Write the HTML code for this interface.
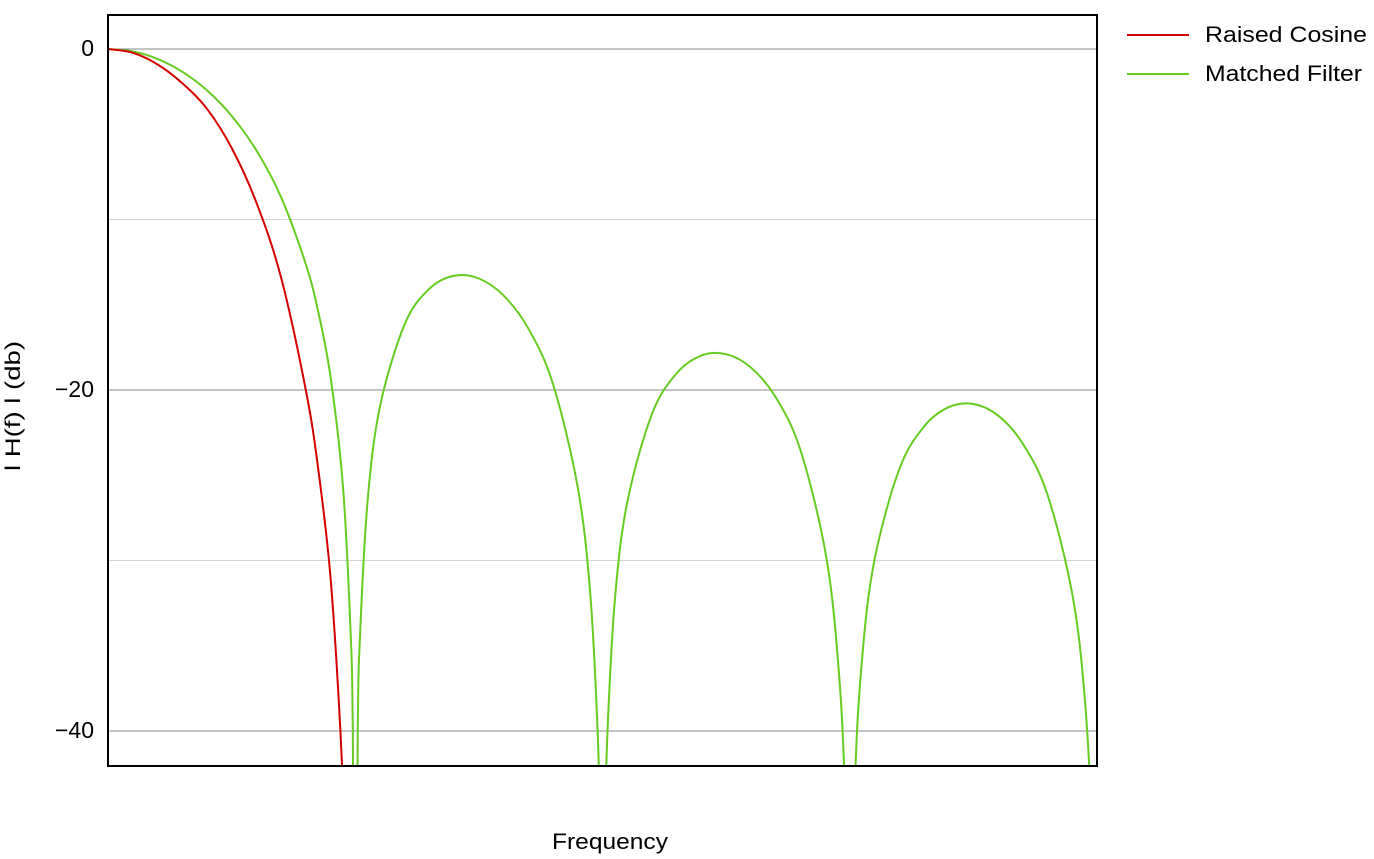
<!DOCTYPE html>
<html><head><meta charset="utf-8"><style>
html,body{margin:0;padding:0;background:#fff;width:1374px;height:859px;overflow:hidden}
svg{display:block}
text{font-family:"Liberation Sans",Arial,sans-serif}
</style></head><body>
<svg id="chart" width="1374" height="859" xmlns="http://www.w3.org/2000/svg">
<defs><clipPath id="pc"><rect x="108" y="15" width="989" height="751"/></clipPath></defs>
<g id="grid"></g>
<g id="series" clip-path="url(#pc)"></g>
<rect x="108" y="15" width="989" height="751" fill="none" stroke="#000" stroke-width="2"/>
<g id="yticks"></g>
<text x="20" y="406" font-size="21" text-anchor="middle" textLength="130" lengthAdjust="spacingAndGlyphs" transform="rotate(-90 20 406)">l H(f) l  (db)</text>
<text x="610" y="849" font-size="22" text-anchor="middle" textLength="116" lengthAdjust="spacingAndGlyphs">Frequency</text>
<g>
<g>
<line x1="1127" y1="35" x2="1189" y2="35" stroke="#d40000" stroke-width="2"/>
<text x="1205" y="42" font-size="22" textLength="162" lengthAdjust="spacingAndGlyphs">Raised Cosine</text></g>
<g>
<line x1="1127" y1="74" x2="1189" y2="74" stroke="#66cc22" stroke-width="2"/>
<text x="1205" y="81" font-size="22" textLength="157" lengthAdjust="spacingAndGlyphs">Matched Filter</text></g>
</g>
</svg>
<script>
const majorTicks = [0, -20, -40];
const minorTicks = [-10, -30];
const tickLabels = ["0", "\u221220", "\u221240"];
const redF = [0, 0.1, 0.2, 0.3, 0.4, 0.5, 0.6, 0.7, 0.8, 0.85, 0.9, 0.94, 0.97];
const redDb = [0, -0.22, -0.9, -2.0, -3.5, -5.8, -9.0, -13.4, -20, -24.6, -31, -40, -50];
const greenF = [0,0.1,0.2,0.3,0.4,0.5,0.6,0.7,0.8,0.85,0.9,0.95,0.98,0.99,1.0,
 1.01,1.02,1.05,1.1,1.2,1.3,1.4,1.5,1.6,1.7,1.8,1.9,1.95,1.98,1.99,2.0,
 2.01,2.02,2.05,2.1,2.2,2.3,2.4,2.5,2.6,2.7,2.8,2.9,2.95,2.98,3.0,
 3.02,3.05,3.1,3.2,3.3,3.4,3.5,3.6,3.7,3.8,3.9,3.95,3.98,4.0];
const greenDb = [0,-0.14,-0.58,-1.33,-2.42,-3.92,-5.94,-8.69,-12.62,-15.39,-19.23,-25.61,-33.8,-39.9,-60,
 -40.1,-34.2,-26.5,-20.97,-16.14,-14.06,-13.30,-13.46,-14.46,-16.39,-19.66,-25.72,-31.86,-39.9,-46,-60,
 -46,-40.1,-32.3,-26.6,-21.41,-19.02,-17.98,-17.90,-18.68,-20.41,-23.50,-29.39,-35.45,-43.5,-60,
 -43.6,-35.75,-29.97,-24.66,-22.15,-21.01,-20.82,-21.50,-23.15,-26.15,-31.97,-37.99,-46,-60];

const X0 = 108, FX = 247.25;
const xs = f => X0 + f * FX;
const ys = db => 49 - db * 17.05;
const NS = "http://www.w3.org/2000/svg";
const grid = document.getElementById('grid');
const yt = document.getElementById('yticks');
majorTicks.forEach((t, i) => {
  const l = document.createElementNS(NS, 'line');
  l.setAttribute('x1', 108); l.setAttribute('x2', 1097);
  l.setAttribute('y1', ys(t)); l.setAttribute('y2', ys(t));
  l.setAttribute('stroke', '#888'); l.setAttribute('stroke-width', '1');
  
  
  grid.appendChild(l);
  const tx = document.createElementNS(NS, 'text');
  tx.setAttribute('x', 94); tx.setAttribute('y', ys(t) + 7);
  tx.setAttribute('font-size', '23'); tx.setAttribute('text-anchor', 'end');
  tx.textContent = tickLabels[i];
  
  
  yt.appendChild(tx);
});
minorTicks.forEach(t => {
  const l = document.createElementNS(NS, 'line');
  l.setAttribute('x1', 108); l.setAttribute('x2', 1097);
  l.setAttribute('y1', ys(t)); l.setAttribute('y2', ys(t));
  l.setAttribute('stroke', '#d4d4d4'); l.setAttribute('stroke-width', '1');
  
  
  grid.appendChild(l);
});
function pathFor(F, D) {
  const p = F.map((f, i) => [xs(f), ys(D[i])]);
  let d = 'M' + p[0][0] + ' ' + p[0][1];
  for (let i = 0; i < p.length - 1; i++) {
    const p0 = p[i - 1] || p[i], p1 = p[i], p2 = p[i + 1], p3 = p[i + 2] || p2;
    const c1 = [p1[0] + (p2[0] - p0[0]) / 6, p1[1] + (p2[1] - p0[1]) / 6];
    const c2 = [p2[0] - (p3[0] - p1[0]) / 6, p2[1] - (p3[1] - p1[1]) / 6];
    d += ' C' + c1[0] + ' ' + c1[1] + ' ' + c2[0] + ' ' + c2[1] + ' ' + p2[0] + ' ' + p2[1];
  }
  return d;
}
const ser = document.getElementById('series');
const g = document.createElementNS(NS, 'path');
g.setAttribute('d', pathFor(greenF, greenDb));
g.setAttribute('fill', 'none'); g.setAttribute('stroke', '#66cc22'); g.setAttribute('stroke-width', '2');


ser.appendChild(g);
const r = document.createElementNS(NS, 'path');
r.setAttribute('d', pathFor(redF, redDb));
r.setAttribute('fill', 'none'); r.setAttribute('stroke', '#d40000'); r.setAttribute('stroke-width', '2');


ser.appendChild(r);
</script>
</body></html>
